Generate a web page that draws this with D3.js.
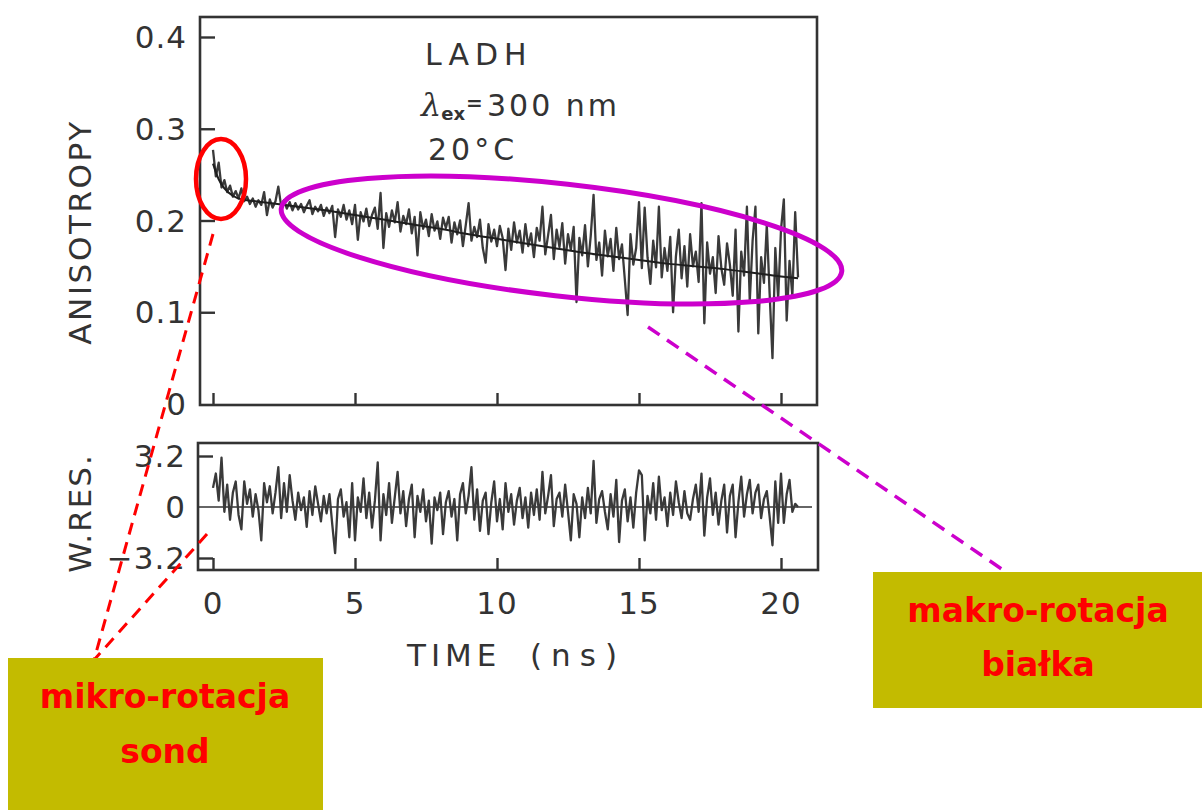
<!DOCTYPE html>
<html>
<head>
<meta charset="utf-8">
<script src="https://cdn.jsdelivr.net/npm/d3@7"></script>
<style>
  html, body { margin: 0; padding: 0; background: #ffffff; }
  svg { display: block; }
</style>
</head>
<body>
<svg id="chart" width="1202" height="810"></svg>
<script>
// ---------------- DATA ----------------
const xTicks = [0, 5, 10, 15, 20];
const xTickLabels = ["0", "5", "10", "15", "20"];
const anisoTicks = [0, 0.1, 0.2, 0.3, 0.4];
const anisoTickLabels = ["0", "0.1", "0.2", "0.3", "0.4"];
const resTicks = [-3.2, 0, 3.2];
const resTickLabels = ["\u22123.2", "0", "3.2"];

const sampleStep = 0.1; // ns between samples

// measured anisotropy, one sample every 0.1 ns from t = 0
const anisotropy = [
  0.277, 0.248, 0.263, 0.236, 0.244, 0.231, 0.238, 0.226, 0.232, 0.224,
  0.235, 0.221, 0.226, 0.218, 0.224, 0.215, 0.222, 0.217, 0.231, 0.206,
  0.223, 0.214, 0.221, 0.237, 0.216, 0.222, 0.213, 0.220, 0.211, 0.219,
  0.212, 0.218, 0.209, 0.216, 0.222, 0.207, 0.215, 0.210, 0.217, 0.205,
  0.214, 0.208, 0.216, 0.182, 0.212, 0.204, 0.217, 0.201, 0.211, 0.196,
  0.217, 0.179, 0.209, 0.199, 0.213, 0.194, 0.206, 0.214, 0.191, 0.230,
  0.170, 0.208, 0.193, 0.211, 0.198, 0.220, 0.188, 0.205, 0.196, 0.212,
  0.186, 0.204, 0.162, 0.209, 0.191, 0.201, 0.183, 0.207, 0.189, 0.199,
  0.180, 0.203, 0.192, 0.204, 0.176, 0.198, 0.185, 0.200, 0.172, 0.195,
  0.219, 0.178, 0.193, 0.182, 0.201, 0.170, 0.154, 0.196, 0.177, 0.190,
  0.172, 0.194, 0.181, 0.146, 0.191, 0.168, 0.198, 0.176, 0.189, 0.165,
  0.196, 0.172, 0.186, 0.160, 0.192, 0.178, 0.215, 0.163, 0.184, 0.206,
  0.158, 0.190, 0.171, 0.197, 0.153, 0.185, 0.168, 0.193, 0.111, 0.181,
  0.162, 0.195, 0.150, 0.183, 0.228, 0.157, 0.176, 0.140, 0.189, 0.161,
  0.180, 0.145, 0.192, 0.158, 0.174, 0.136, 0.097, 0.185, 0.152, 0.170,
  0.220, 0.148, 0.214, 0.160, 0.131, 0.178, 0.149, 0.215, 0.138, 0.170,
  0.145, 0.182, 0.100, 0.161, 0.190, 0.137, 0.172, 0.128, 0.185, 0.150,
  0.166, 0.133, 0.219, 0.088, 0.176, 0.142, 0.160, 0.121, 0.183, 0.148,
  0.130, 0.175, 0.152, 0.118, 0.190, 0.079, 0.166, 0.140, 0.215, 0.112,
  0.178, 0.215, 0.077, 0.160, 0.132, 0.195, 0.120, 0.050, 0.170, 0.115,
  0.190, 0.223, 0.091, 0.156, 0.118, 0.209, 0.138
];

// fitted decay curve (time in ns, anisotropy)
const fitTimes  = [0, 0.2, 0.4, 0.7, 1, 1.5, 2, 3, 4, 5, 6, 7, 8, 9, 10, 11, 12, 13, 14, 15, 16, 17, 18, 19, 20, 20.6];
const fitValues = [0.262, 0.245, 0.235, 0.227, 0.223, 0.221, 0.219, 0.215, 0.211, 0.206, 0.201, 0.196, 0.191, 0.185, 0.180,
                   0.175, 0.170, 0.165, 0.161, 0.157, 0.153, 0.150, 0.147, 0.143, 0.139, 0.137];

// weighted residuals, one sample every 0.1 ns from t = 0
const residuals = [
  1.2, 2.1, 0.4, 3.1, -0.3, 1.4, -0.8, 0.9, 1.6, -0.5,
  -1.4, 1.6, 0.2, 1.1, -0.6, 0.8, -0.2, -2.1, 1.5, 0.3,
  1.3, -0.4, 0.9, 2.5, -0.7, 1.5, -0.3, 2.0, 0.4, -0.8,
  0.9, -0.2, 0.6, -1.25, 1.0, -0.5, 1.3, 0.2, -0.9, 0.7,
  -0.4, 0.8, -1.1, -2.9, 0.5, 1.1, -0.6, 0.3, -1.9, 1.5,
  -2.1, 0.6, -0.3, 1.8, -0.7, 0.9, -1.3, 0.4, 2.8, -2.1,
  0.8, -0.5, 1.5, -1.0, 0.6, 2.2, -0.4, 1.0, -1.2, 0.5,
  1.4, -1.9, 0.7, -0.3, 1.1, -0.9, 0.4, -2.3, 0.6, -0.2,
  0.9, -1.7, 0.3, 1.0, -0.6, 0.5, -2.1, 0.8, 1.5, -0.4,
  0.7, 2.5, -0.8, 1.1, -1.5, 0.4, 0.9, -1.7, 0.3, 1.6,
  -0.9, 0.5, -1.4, 1.5, -0.3, 0.8, -1.1, 0.4, 1.2, -0.7,
  0.6, -1.3, 0.9, -0.5, 1.1, -0.8, 2.2, -0.4, 0.7, 2.0,
  -1.2, 0.5, 0.9, -0.6, 1.4, -0.3, -2.1, 0.8, 0.2, -1.9,
  0.6, -0.7, 1.2, -0.4, 2.9, -1.0, 0.5, 1.0, -0.3, -1.4,
  0.8, -0.6, 1.7, -2.2, 0.4, 1.1, -0.9, 0.6, -1.3, 0.9,
  2.3, 2.0, -2.1, 0.7, -0.4, 1.5, -0.8, 1.9, -0.2, 0.6,
  -1.2, 0.9, -0.5, 1.6, 0.3, -0.7, 1.0, -0.4, -0.8, 0.5,
  1.4, -0.3, 2.1, -1.8, 0.6, 1.8, -0.5, 0.9, -1.1, 0.4,
  1.4, -1.6, 0.7, 1.4, -1.9, 0.3, 1.9, -0.6, 0.8, 1.7,
  -0.4, 0.9, 1.4, -0.7, 0.5, 1.0, -0.6, -2.4, 1.6, -1.0,
  2.1, -1.0, 0.8, 1.7, -0.3, 0.2, 0.0
];

const panelTexts = ["LADH", "20\u00B0C"];
const noteLeft = ["mikro-rotacja", "sond"];
const noteRight = ["makro-rotacja", "bia\u0142ka"];

// ---------------- DRAWING ----------------
const svg = d3.select("#chart");
const ink = "#333333";
const font = "'DejaVu Sans', sans-serif";

const x = d3.scaleLinear().domain([0, 20]).range([213, 781]);
const yA = d3.scaleLinear().domain([0, 0.4]).range([404, 37]);
const yR = d3.scaleLinear().domain([-3.2, 3.2]).range([558, 456]);

const upper = { left: 200, right: 817, top: 17, bottom: 405 };
const lower = { left: 198, right: 818, top: 443, bottom: 570 };

// frames
svg.append("rect")
  .attr("x", upper.left).attr("y", upper.top)
  .attr("width", upper.right - upper.left).attr("height", upper.bottom - upper.top)
  .attr("fill", "none").attr("stroke", ink).attr("stroke-width", 2.6);
svg.append("rect")
  .attr("x", lower.left).attr("y", lower.top)
  .attr("width", lower.right - lower.left).attr("height", lower.bottom - lower.top)
  .attr("fill", "none").attr("stroke", ink).attr("stroke-width", 2.6);

// upper left axis (ticks inward)
const gA = svg.append("g").attr("transform", `translate(${upper.left},0)`)
  .call(d3.axisRight(yA).tickValues(anisoTicks.filter(d => d > 0)).tickSize(15).tickFormat(""));
gA.select(".domain").remove();
gA.selectAll("line").attr("stroke", ink).attr("stroke-width", 2.4);

svg.append("g").selectAll("text").data(anisoTicks).join("text")
  .attr("x", 187).attr("y", d => yA(d) + 11)
  .attr("text-anchor", "end")
  .attr("font-family", font).attr("font-size", 31).attr("letter-spacing", 1)
  .attr("fill", ink)
  .text((d, i) => anisoTickLabels[i]);

// upper bottom ticks (inward)
const gXU = svg.append("g").attr("transform", `translate(0,${upper.bottom})`)
  .call(d3.axisTop(x).tickValues(xTicks).tickSize(12).tickFormat(""));
gXU.select(".domain").remove();
gXU.selectAll("line").attr("stroke", ink).attr("stroke-width", 2.4);

// lower left ticks
const gR = svg.append("g").attr("transform", `translate(${lower.left},0)`)
  .call(d3.axisRight(yR).tickValues([-3.2, 3.2]).tickSize(15).tickFormat(""));
gR.select(".domain").remove();
gR.selectAll("line").attr("stroke", ink).attr("stroke-width", 2.4);

svg.append("g").selectAll("text").data(resTicks).join("text")
  .attr("x", 186).attr("y", d => yR(d) + 11)
  .attr("text-anchor", "end")
  .attr("font-family", font).attr("font-size", 31).attr("letter-spacing", 1)
  .attr("fill", ink)
  .text((d, i) => resTickLabels[i]);

// lower bottom ticks (inward)
const gXL = svg.append("g").attr("transform", `translate(0,${lower.bottom})`)
  .call(d3.axisTop(x).tickValues(xTicks).tickSize(12).tickFormat(""));
gXL.select(".domain").remove();
gXL.selectAll("line").attr("stroke", ink).attr("stroke-width", 2.4);

// x tick labels
svg.append("g").selectAll("text").data(xTicks).join("text")
  .attr("x", d => x(d)).attr("y", 614)
  .attr("text-anchor", "middle")
  .attr("font-family", font).attr("font-size", 31).attr("letter-spacing", 1)
  .attr("fill", ink)
  .text((d, i) => xTickLabels[i]);

// axis titles
svg.append("text")
  .attr("transform", "translate(91,232) rotate(-90)")
  .attr("text-anchor", "middle")
  .attr("font-family", font).attr("font-size", 31).attr("letter-spacing", 2.6)
  .attr("fill", ink).text("ANISOTROPY");
svg.append("text")
  .attr("transform", "translate(91,513) rotate(-90)")
  .attr("text-anchor", "middle")
  .attr("font-family", font).attr("font-size", 31).attr("letter-spacing", 2)
  .attr("fill", ink).text("W.RES.");
svg.append("text")
  .attr("x", 407).attr("y", 666)
  .attr("font-family", font).attr("font-size", 31).attr("letter-spacing", 5)
  .attr("fill", ink).text("TIME");
svg.append("text")
  .attr("x", 530).attr("y", 666)
  .attr("font-family", font).attr("font-size", 31).attr("letter-spacing", 9)
  .attr("fill", ink).text("(ns)");

// panel annotation texts
svg.append("text").attr("x", 425).attr("y", 65)
  .attr("font-family", font).attr("font-size", 30).attr("letter-spacing", 6)
  .attr("fill", ink).text(panelTexts[0]);

// lambda_ex = 300 nm, as one text element with tspans
const lam = svg.append("text").attr("x", 421).attr("y", 116)
  .attr("font-family", font).attr("fill", ink);
lam.append("tspan")
  .attr("font-family", "'DejaVu Serif', serif").attr("font-style", "italic")
  .attr("font-size", 32).text("\u03BB");
lam.append("tspan").attr("dy", 4)
  .attr("font-weight", "bold").attr("font-size", 18).text("ex");
lam.append("tspan").attr("dx", 1).attr("dy", -10)
  .attr("font-weight", "bold").attr("font-size", 20).text("=");
lam.append("tspan").attr("x", 487).attr("y", 116)
  .attr("font-size", 30).attr("letter-spacing", 3).text("300 nm");

svg.append("text").attr("x", 428).attr("y", 160)
  .attr("font-family", font).attr("font-size", 30).attr("letter-spacing", 4)
  .attr("fill", ink).text(panelTexts[1]);

// residual zero line
svg.append("line")
  .attr("x1", lower.left).attr("x2", 812)
  .attr("y1", yR(0)).attr("y2", yR(0))
  .attr("stroke", ink).attr("stroke-width", 1.6);

// data lines
const anisoLine = d3.line()
  .x((d, i) => x(i * sampleStep))
  .y(d => yA(d));
svg.append("path").datum(anisotropy)
  .attr("d", anisoLine)
  .attr("fill", "none").attr("stroke", "#3a3a3a").attr("stroke-width", 2.3)
  .attr("stroke-linejoin", "round");

const fitLine = d3.line()
  .x((d, i) => x(fitTimes[i]))
  .y(d => yA(d))
  .curve(d3.curveMonotoneX);
svg.append("path").datum(fitValues)
  .attr("d", fitLine)
  .attr("fill", "none").attr("stroke", "#1e1e1e").attr("stroke-width", 2);

const resLine = d3.line()
  .x((d, i) => x(i * sampleStep))
  .y(d => yR(d));
svg.append("path").datum(residuals)
  .attr("d", resLine)
  .attr("fill", "none").attr("stroke", "#3a3a3a").attr("stroke-width", 2.3)
  .attr("stroke-linejoin", "round");

// ---------------- OVERLAY ANNOTATIONS ----------------
const red = "#ff0000";
const magenta = "#cc00cc";
const boxFill = "#c3bb00";

// red ellipse around the fast initial decay
svg.append("ellipse")
  .attr("cx", 221).attr("cy", 179).attr("rx", 25).attr("ry", 40)
  .attr("fill", "none").attr("stroke", red).attr("stroke-width", 4.5);

// magenta ellipse around slow decay
svg.append("ellipse")
  .attr("cx", 0).attr("cy", 0).attr("rx", 282).attr("ry", 56)
  .attr("transform", "translate(561.5,240) rotate(6.4)")
  .attr("fill", "none").attr("stroke", magenta).attr("stroke-width", 5);

// dashed leaders
svg.append("line").attr("x1", 213).attr("y1", 234).attr("x2", 94).attr("y2", 660)
  .attr("stroke", red).attr("stroke-width", 3).attr("stroke-dasharray", "12,8");
svg.append("line").attr("x1", 207).attr("y1", 534).attr("x2", 94).attr("y2", 660)
  .attr("stroke", red).attr("stroke-width", 3).attr("stroke-dasharray", "12,8");
svg.append("line").attr("x1", 648).attr("y1", 327).attr("x2", 1006).attr("y2", 572)
  .attr("stroke", magenta).attr("stroke-width", 3.5).attr("stroke-dasharray", "14,9");

// label boxes
svg.append("rect").attr("x", 8).attr("y", 658).attr("width", 315).attr("height", 152).attr("fill", boxFill);
svg.append("rect").attr("x", 873).attr("y", 572).attr("width", 329).attr("height", 136).attr("fill", boxFill);

svg.append("g").selectAll("text").data(noteLeft).join("text")
  .attr("x", 165).attr("y", (d, i) => 708 + i * 55)
  .attr("text-anchor", "middle")
  .attr("font-family", font).attr("font-weight", "bold").attr("font-size", 33)
  .attr("fill", red).text(d => d);
svg.append("g").selectAll("text").data(noteRight).join("text")
  .attr("x", 1038).attr("y", (d, i) => 622 + i * 54)
  .attr("text-anchor", "middle")
  .attr("font-family", font).attr("font-weight", "bold").attr("font-size", 33)
  .attr("fill", red).text(d => d);
</script>
</body>
</html>
